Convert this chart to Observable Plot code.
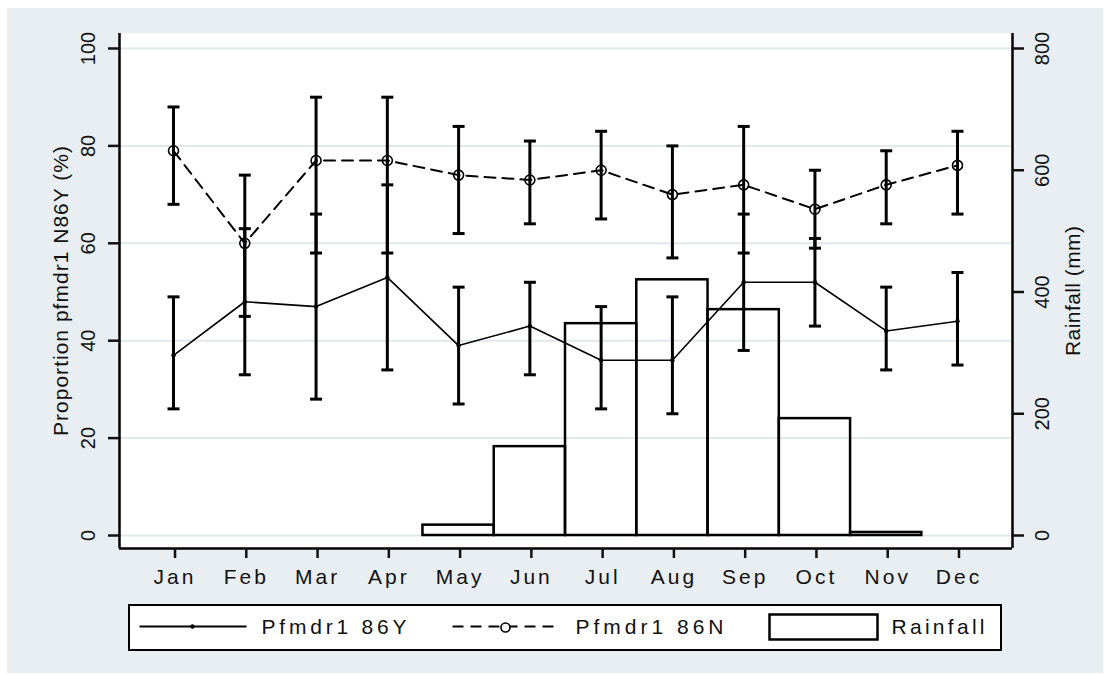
<!DOCTYPE html>
<html>
<head>
<meta charset="utf-8">
<script src="https://cdn.jsdelivr.net/npm/d3@7"></script>
<script src="https://cdn.jsdelivr.net/npm/@observablehq/plot@0.6"></script>
<style>
  body { margin: 0; background: #ffffff; }
  #bg { position: absolute; left: 7px; top: 8px; width: 1096px; height: 665px; background: #e8eef1; }
  #chart svg { display: block; }
  #legend { position: absolute; left: 121px; top: 596px; width: 874px; height: 47px; box-sizing: border-box;
            border: 2.5px solid #000; background: #fff; }
  #legend svg { display: block; }
  g[aria-label="x-axis tick label"] text { letter-spacing: 3px; }
</style>
</head>
<body>
<div id="bg">
  <div id="chart"></div>
  <div id="legend"></div>
</div>
<script>
// ---- data ----
const months = ["Jan","Feb","Mar","Apr","May","Jun","Jul","Aug","Sep","Oct","Nov","Dec"];
const monthNums = [1,2,3,4,5,6,7,8,9,10,11,12];
const y86   = [37,48,47,53,39,43,36,36,52,52,42,44];
const y86Lo = [26,33,28,34,27,33,26,25,38,43,34,35];
const y86Hi = [49,63,66,72,51,52,47,49,66,61,51,54];
const n86   = [79,60,77,77,74,73,75,70,72,67,72,76];
const n86Lo = [68,45,58,58,62,64,65,57,58,59,64,66];
const n86Hi = [88,74,90,90,84,81,83,80,84,75,79,83];
const rainfall = [0,0,0,0,17,146,348,420,371,192,5,0];
const leftTicks = [0,20,40,60,80,100];
const rainTicks = [0,200,400,600,800];
const rainPerUnit = 8; // 800 mm on the right axis = 100 % on the left axis
const leftTitle = "Proportion pfmdr1 N86Y (%)";
const rightTitle = "Rainfall (mm)";
const legendLabels = ["Pfmdr1 86Y", "Pfmdr1 86N", "Rainfall"];

const xDomain = [0.242, 12.772];
const yDomain = [-2.67, 103.08];

// ---- tables ----
const yRows = monthNums.map((m,i) => ({m, v: y86[i], lo: y86Lo[i], hi: y86Hi[i]}));
const nRows = monthNums.map((m,i) => ({m, v: n86[i], lo: n86Lo[i], hi: n86Hi[i]}));
const ciRows = yRows.concat(nRows);
const capRows = ciRows.flatMap(d => [{m: d.m, v: d.lo}, {m: d.m, v: d.hi}]);
const rainRows = monthNums.map((m,i) => ({m, rain: rainfall[i]})).filter(d => d.rain > 0);

const capSymbol = {
  draw(ctx, size) { const r = Math.sqrt(size / Math.PI); ctx.moveTo(-r, 0); ctx.lineTo(r, 0); }
};

const chart = Plot.plot({
  width: 1096, height: 590,
  marginLeft: 112, marginRight: 91, marginTop: 25, marginBottom: 50,
  x: {type: "linear", domain: xDomain, label: null},
  y: {domain: yDomain, label: null},
  style: {background: "transparent", fontFamily: "'Liberation Sans', Arial, sans-serif", fontSize: "20px", color: "#111"},
  marks: [
    Plot.frame({fill: "white", stroke: "none"}),
    Plot.ruleY(leftTicks, {stroke: "#e0e9eb", strokeWidth: 2}),
    Plot.rectY(rainRows, {x1: d => d.m - 0.5, x2: d => d.m + 0.5, y1: 0, y2: d => d.rain / rainPerUnit,
                          fill: "none", stroke: "black", strokeWidth: 2.5}),
    Plot.ruleX(ciRows, {x: "m", y1: "lo", y2: "hi", stroke: "black", strokeWidth: 3}),
    Plot.dot(capRows, {x: "m", y: "v", symbol: capSymbol, r: 6, stroke: "black", strokeWidth: 3, fill: "none"}),
    Plot.line(yRows, {x: "m", y: "v", stroke: "black", strokeWidth: 1.6}),
    Plot.dot(yRows, {x: "m", y: "v", r: 2.2, fill: "black"}),
    Plot.line(nRows, {x: "m", y: "v", stroke: "black", strokeWidth: 2, strokeDasharray: "11,7"}),
    Plot.dot(nRows, {x: "m", y: "v", r: 5, stroke: "black", strokeWidth: 1.6, fill: "none"}),
    Plot.ruleX([xDomain[0], xDomain[1]], {stroke: "black", strokeWidth: 2.5}),
    Plot.ruleY([yDomain[0]], {stroke: "black", strokeWidth: 2.5}),
    Plot.axisY(leftTicks, {anchor: "left", tickRotate: -90, tickSize: 11, tickPadding: 20,
                           lineAnchor: "middle", strokeWidth: 2.5, label: null, fontSize: 20}),
    Plot.axisY(rainTicks.map(v => v / rainPerUnit), {anchor: "right", tickRotate: -90, tickSize: 11, tickPadding: 19,
                           lineAnchor: "middle", tickFormat: v => String(Math.round(v * rainPerUnit)),
                           strokeWidth: 2.5, label: null, fontSize: 20}),
    Plot.axisX(monthNums, {anchor: "bottom", tickSize: 10, tickPadding: 19, lineAnchor: "middle",
                           tickFormat: m => months[m - 1], strokeWidth: 2.5, label: null, fontSize: 21, dx: 1.5}),
    Plot.text([leftTitle], {text: d => d, frameAnchor: "left", textAnchor: "middle", rotate: -90, dx: -58, fontSize: 21}),
    Plot.text([rightTitle], {text: d => d, frameAnchor: "right", textAnchor: "middle", rotate: -90, dx: 61, fontSize: 21})
  ]
});
document.getElementById("chart").appendChild(chart);

// stretch the axis titles to the lengths seen in the reference
d3.select(chart).selectAll("text").each(function() {
  const t = this.textContent;
  if (t === leftTitle) d3.select(this).attr("textLength", 290).attr("lengthAdjust", "spacing");
  if (t === rightTitle) d3.select(this).attr("textLength", 130).attr("lengthAdjust", "spacing");
});

// ---- legend ----
const lg = d3.select("#legend").append("svg").attr("width", 869).attr("height", 42);
lg.append("line").attr("x1", 9.5).attr("x2", 116.5).attr("y1", 20.5).attr("y2", 20.5)
  .attr("stroke", "black").attr("stroke-width", 2);
lg.append("circle").attr("cx", 62.5).attr("cy", 20.5).attr("r", 2.2).attr("fill", "black");
lg.append("line").attr("x1", 322.5).attr("x2", 430.5).attr("y1", 20.5).attr("y2", 20.5)
  .attr("stroke", "black").attr("stroke-width", 2).attr("stroke-dasharray", "11,7");
lg.append("circle").attr("cx", 375.5).attr("cy", 21.5).attr("r", 4.5).attr("fill", "white")
  .attr("stroke", "black").attr("stroke-width", 1.6);
lg.append("rect").attr("x", 639.5).attr("y", 8.5).attr("width", 108).attr("height", 25)
  .attr("fill", "white").attr("stroke", "black").attr("stroke-width", 2.5);
const lx = [131.5, 445.5, 761.5], lw = [145, 148, 93];
legendLabels.forEach((t, i) => {
  lg.append("text").attr("x", lx[i]).attr("y", 28).attr("textLength", lw[i]).attr("lengthAdjust", "spacing")
    .attr("font-family", "'Liberation Sans', Arial, sans-serif").attr("font-size", 21).attr("fill", "#111").text(t);
});
</script>
</body>
</html>
